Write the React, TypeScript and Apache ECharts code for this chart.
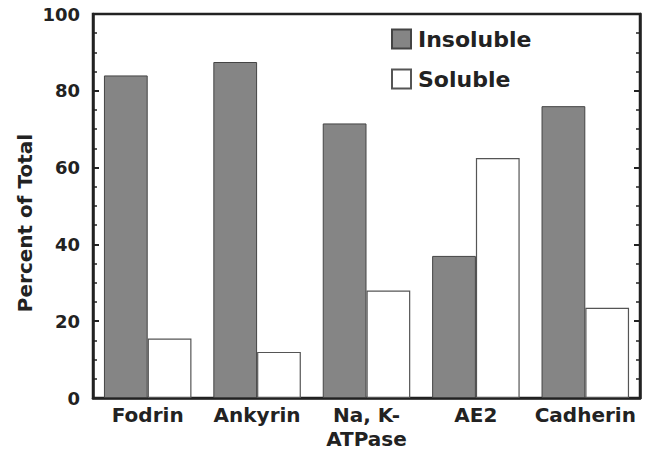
import React, { useEffect, useRef } from "react";
import * as echarts from "echarts";

const categories = ["Fodrin", "Ankyrin", "Na, K-\nATPase", "AE2", "Cadherin"];
const insoluble = [84, 87.5, 71.5, 37, 76];
const soluble = [15.5, 12, 28, 62.5, 23.5];
const seriesNames = ["Insoluble", "Soluble"];
const yTitle = "Percent of Total";

const FONT = "'DejaVu Sans', sans-serif";
const INK = "#222";

export default function App() {
  const ref = useRef<HTMLDivElement>(null);
  useEffect(() => {
    if (!ref.current) return;
    const chart = echarts.init(ref.current, undefined, { renderer: "svg" });
    const yAxisBase = {
      type: "value",
      min: 0,
      max: 100,
      interval: 20,
      splitLine: { show: false },
      axisLine: { show: true, lineStyle: { color: INK, width: 2.5 } },
      axisTick: { show: true, inside: true, length: 6, lineStyle: { color: INK, width: 2 } },
      minorTick: { show: true, splitNumber: 4, length: 4, lineStyle: { color: INK, width: 1.5 } },
    };
    chart.setOption({
      animation: false,
      backgroundColor: "#fff",
      grid: {
        left: 93,
        right: 14,
        top: 14,
        bottom: 53,
        show: true,
        borderColor: INK,
        borderWidth: 2.5,
      },
      legend: {
        orient: "vertical",
        left: 386,
        top: 23,
        itemWidth: 19,
        itemHeight: 19,
        itemGap: 18,
        icon: "rect",
        data: seriesNames,
        textStyle: { fontFamily: FONT, fontWeight: "bold", fontSize: 22, color: INK, padding: [0, 0, 0, 2] },
      },
      xAxis: {
        type: "category",
        data: categories,
        axisLine: { show: true, lineStyle: { color: INK, width: 2.5 } },
        axisTick: { show: false },
        axisLabel: {
          fontFamily: FONT,
          fontWeight: "bold",
          fontSize: 20,
          lineHeight: 24,
          color: INK,
          margin: 5,
          interval: 0,
        },
      },
      yAxis: [
        {
          ...yAxisBase,
          position: "left",
          axisLabel: { fontFamily: FONT, fontWeight: "bold", fontSize: 18, color: INK, margin: 13 },
        },
        {
          ...yAxisBase,
          position: "right",
          axisLabel: { show: false },
        },
      ],
      graphic: [
        {
          type: "text",
          x: 25,
          y: 223,
          rotation: Math.PI / 2,
          style: {
            text: yTitle,
            fontFamily: FONT,
            fontWeight: "bold",
            fontSize: 20,
            fill: INK,
            align: "center",
            verticalAlign: "middle",
          },
        },
      ],
      series: [
        {
          name: seriesNames[0],
          type: "bar",
          data: insoluble,
          barWidth: "40%",
          barGap: "0%",
          itemStyle: { color: "#858585", borderColor: "#444", borderWidth: 1 },
        },
        {
          name: seriesNames[1],
          type: "bar",
          data: soluble,
          barWidth: "40%",
          barGap: "0%",
          itemStyle: { color: "#fff", borderColor: "#555", borderWidth: 1.2 },
        },
      ],
    });
    return () => chart.dispose();
  }, []);
  return (
    <div
      ref={ref}
      style={{ position: "absolute", left: 0, top: 0, width: 654, height: 451, background: "#fff" }}
    />
  );
}
